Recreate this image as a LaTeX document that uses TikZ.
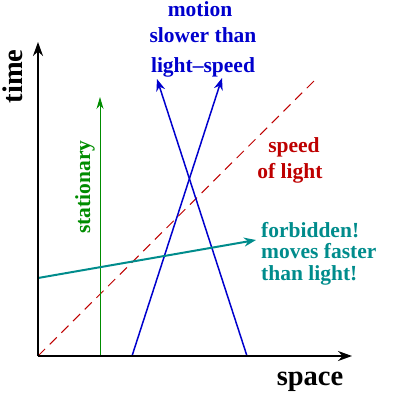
\documentclass[tikz,border=0pt]{standalone}
\usepackage{fontspec}
\setmainfont{Liberation Serif}
\usetikzlibrary{arrows.meta}
\definecolor{mblue}{RGB}{0,0,205}
\definecolor{mgreen}{RGB}{0,140,0}
\definecolor{mred}{RGB}{190,0,0}
\definecolor{mteal}{RGB}{0,140,140}
\tikzset{
  axis/.style={line width=2pt,-{Stealth[length=14pt,width=10pt]}},
  world/.style={line width=1.5pt,-{Stealth[length=12pt,width=9pt]}},
  lbl/.style={font=\fontsize{21.5}{23}\selectfont\bfseries,anchor=base,inner sep=0pt},
  axlbl/.style={font=\fontsize{28.5}{30}\selectfont\bfseries,anchor=base,inner sep=0pt}
}
\begin{document}
\begin{tikzpicture}[x=1pt,y=-1pt]
\useasboundingbox (0,0) rectangle (401,392);
% coordinates
\coordinate (O) at (38,356);
\coordinate (T) at (38,42);
\coordinate (X) at (352,356);
\coordinate (Gs) at (100,356);
\coordinate (Ge) at (100,97);
\coordinate (B1s) at (132,356);
\coordinate (B1e) at (222,78);
\coordinate (B2s) at (247,356);
\coordinate (B2e) at (157,79);
\coordinate (Le) at (318,77);
\coordinate (Fs) at (38,278);
\coordinate (Fe) at (256,240);
% light line
\draw[mred,line width=1pt,dash pattern=on 10pt off 6.5pt] (O) -- (Le);
% worldlines
\draw[mgreen,line width=1pt,-{Stealth[length=12pt,width=7pt]}] (Gs) -- (Ge);
\draw[world,mblue] (B1s) -- (B1e);
\draw[world,mblue] (B2s) -- (B2e);
\draw[world,mteal,line width=2pt] (Fs) -- (Fe);
% axes
\draw[axis] (O) -- (T);
\draw[axis] (O) -- (X);
% labels
\node[axlbl,rotate=90] (tl) at (22,76.5) {time};
\node[axlbl] (sl) at (310,385) {space};
\node[lbl,mblue] (m1) at (200,16) {motion};
\node[lbl,mblue] (m2) at (203,42) {slower than};
\node[lbl,mblue] (m3) at (203,72) {light--speed};
\node[lbl,mred] (s1) at (294,152) {speed};
\node[lbl,mred] (s2) at (290,178) {of light};
\node[lbl,mgreen,rotate=90] (st) at (90,187) {stationary};
\node[lbl,mteal,anchor=base west] (f1) at (261,237) {forbidden!};
\node[lbl,mteal,anchor=base west] (f2) at (261,258) {moves faster};
\node[lbl,mteal,anchor=base west] (f3) at (261,280) {than light!};
\end{tikzpicture}
\end{document}
